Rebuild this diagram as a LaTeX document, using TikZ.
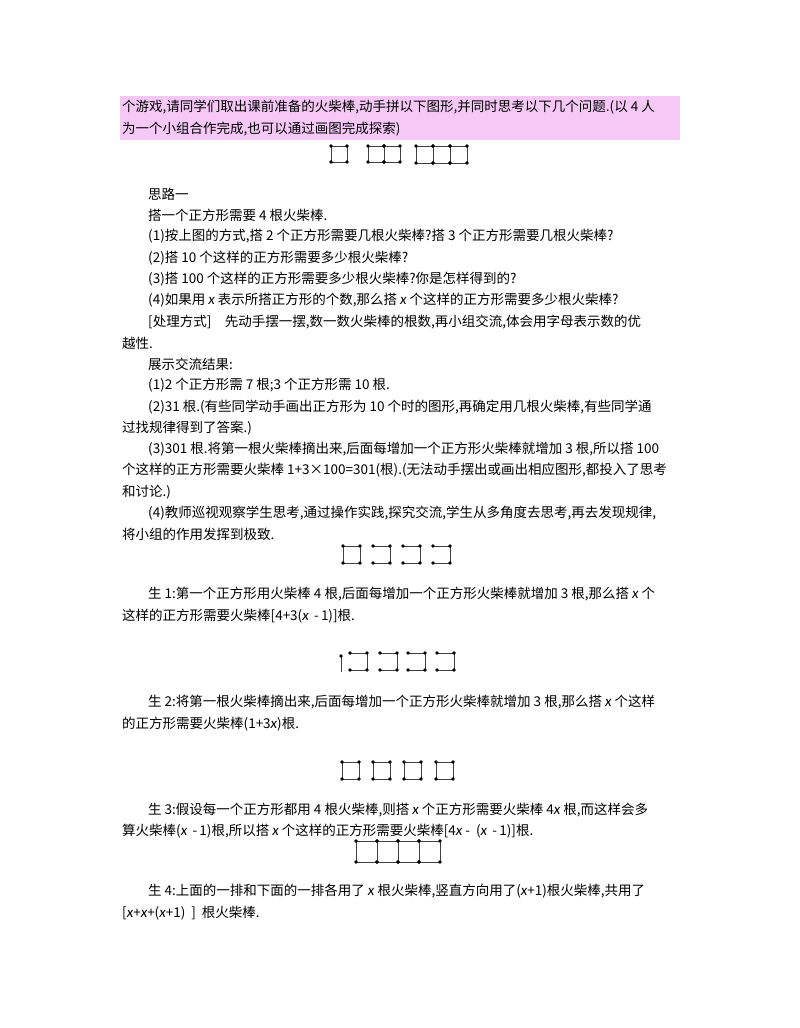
\documentclass[tikz,border=0pt]{standalone}
\usepackage{fontspec}
\setmainfont{Noto Sans CJK SC}
\newfontfamily\lat{Carlito}
\newcommand\xv{{\lat\itshape\fontsize{15}{16}\selectfont x}}
\begin{document}
\begin{tikzpicture}[x=1pt,y=-1pt,
  tx/.style={anchor=west,inner sep=0pt,font=\fontsize{13.5}{16}\selectfont},
  stk/.style={line width=0.9pt,draw=black!75},
  dt/.style={fill=black}]
\useasboundingbox (0,0) rectangle (800,1028);
\fill[fill={rgb,255:red,246;green,200;blue,246}] (120,96) rectangle (680,140);
\newcommand\sq[3]{\draw[stk] (#1,#2) rectangle ++(#3,#3);
 \foreach \a/\b in {0/0,#3/0,0/#3,#3/#3}{\fill (#1+\a,#2+\b) circle (1.8);}}
\newcommand\cc[3]{\draw[stk] (#1,#2) -- ++(#3,0) -- ++(0,#3) -- ++(-#3,0);
 \foreach \a/\b in {0/0,#3/0,#3/#3,0/#3}{\fill (#1+\a,#2+\b) circle (1.8);}}
% text
\node[tx] (l1) at (122,107) {个游戏,请同学们取出课前准备的火柴棒,动手拼以下图形,并同时思考以下几个问题.(以 4 人};
\node[tx] (l2) at (122,129) {为一个小组合作完成,也可以通过画图完成探索)};
\foreach \n/\x/\y/\t in {
 a/148/194/{思路一},
 b/148/215/{搭一个正方形需要 4 根火柴棒.},
 c/148/236/{(1)按上图的方式,搭 2 个正方形需要几根火柴棒?搭 3 个正方形需要几根火柴棒?},
 d/148/258/{(2)搭 10 个这样的正方形需要多少根火柴棒?},
 e/148/279/{(3)搭 100 个这样的正方形需要多少根火柴棒?你是怎样得到的?},
 f/148/300/{(4)如果用 \xv\ 表示所搭正方形的个数,那么搭 \xv\ 个这样的正方形需要多少根火柴棒?},
 g/148/322/{[处理方式]\quad 先动手摆一摆,数一数火柴棒的根数,再小组交流,体会用字母表示数的优},
 h/122/343/{越性.},
 i/148/364/{展示交流结果:},
 j/148/385/{(1)2 个正方形需 7 根;3 个正方形需 10 根.},
 k/148/407/{(2)31 根.(有些同学动手画出正方形为 10 个时的图形,再确定用几根火柴棒,有些同学通},
 l/122/428/{过找规律得到了答案.)},
 m/148/449/{(3)301 根.将第一根火柴棒摘出来,后面每增加一个正方形火柴棒就增加 3 根,所以搭 100},
 n/122/470/{个这样的正方形需要火柴棒 1+3×100=301(根).(无法动手摆出或画出相应图形,都投入了思考},
 o/122/492/{和讨论.)},
 p/148/513/{(4)教师巡视观察学生思考,通过操作实践,探究交流,学生从多角度去思考,再去发现规律,},
 q/122/534/{将小组的作用发挥到极致.},
 r/148/594/{生 1:第一个正方形用火柴棒 4 根,后面每增加一个正方形火柴棒就增加 3 根,那么搭 \xv\ 个},
 s/122/616/{这样的正方形需要火柴棒[4+3(\xv\ \,-\,1)]根.},
 t/148/702/{生 2:将第一根火柴棒摘出来,后面每增加一个正方形火柴棒就增加 3 根,那么搭 \xv\ 个这样},
 u/122/724/{的正方形需要火柴棒(1+3\xv)根.},
 v/148/810/{生 3:假设每一个正方形都用 4 根火柴棒,则搭 \xv\ 个正方形需要火柴棒 4\xv\ 根,而这样会多},
 w/122/831/{算火柴棒(\xv\ \,-\,1)根,所以搭 \xv\ 个这样的正方形需要火柴棒[4\xv\ -\ \ (\xv\ \,-\,1)]根.},
 y/148/891/{生 4:上面的一排和下面的一排各用了 \xv\ 根火柴棒,竖直方向用了(\xv+1)根火柴棒,共用了},
 z/122/913/{[\xv+\xv+(\xv+1)\ \ ]\ \ 根火柴棒.}}
 {\node[tx] (\n) at (\x,\y) {\t};}
% fig 1
\sq{331}{146}{16}
\sq{368}{146}{16}\sq{384}{146}{16}
\sq{416}{146}{17}\sq{433}{146}{17}\sq{450}{146}{17}
% fig 2
\sq{343}{546}{17}
\cc{373}{546}{17}\cc{403}{546}{17}\cc{433}{546}{17}
% fig 3
\draw[stk] (341,656) -- (341,672); \fill (341,656) circle (1.8);
\cc{350}{653}{17}\cc{380}{653}{17}\cc{408}{653}{17}\cc{437}{653}{17}
% fig 4
\sq{342}{762}{17}\sq{373}{762}{17}\sq{404}{762}{17}\sq{436}{762}{17}
% fig 5
\sq{356}{841}{21}\sq{377}{841}{21}\sq{398}{841}{21}\sq{419}{841}{21}
\end{tikzpicture}
\end{document}
